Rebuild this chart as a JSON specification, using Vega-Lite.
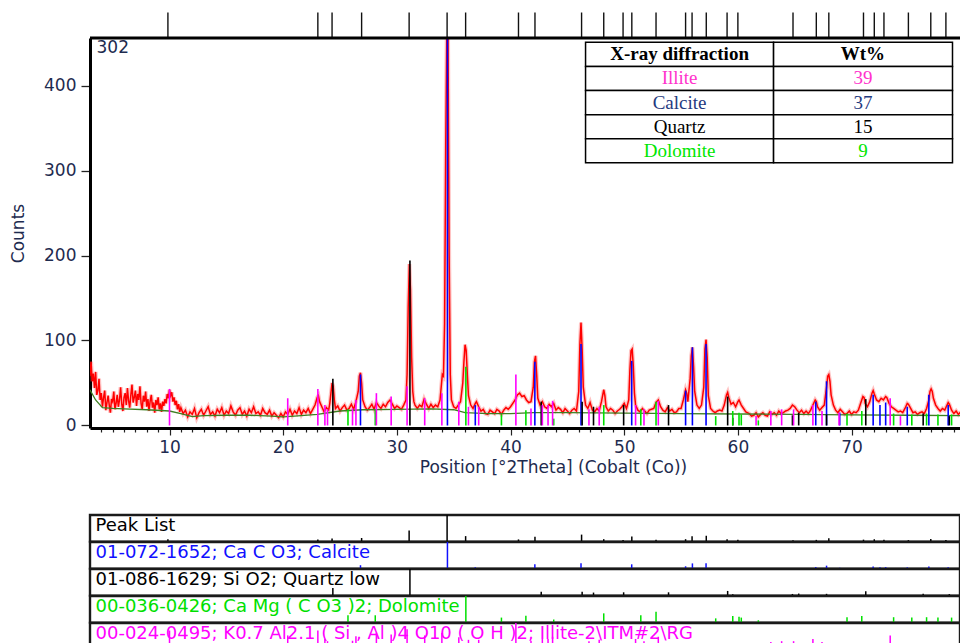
{
  "$schema": "https://vega.github.io/schema/vega-lite/v6.json",
  "padding": {"left": 9, "top": 11, "right": 0, "bottom": 0},
  "config": {
    "font": "DejaVu Sans",
    "view": {"stroke": null},
    "axis": {"grid": false, "labelFont": "DejaVu Sans", "titleFont": "DejaVu Sans"}
  },
  "datasets": {
    "sample": [{"sample": "302"}],
    "table": [
      {"rank": 0, "mineral": "X-ray diffraction", "wt": "Wt%"},
      {"rank": 1, "mineral": "Illite", "wt": "39"},
      {"rank": 2, "mineral": "Calcite", "wt": "37"},
      {"rank": 3, "mineral": "Quartz", "wt": "15"},
      {"rank": 4, "mineral": "Dolomite", "wt": "9"}
    ],
    "background": [
      {"t":3.0,"c":42},{"t":3.5,"c":30},{"t":4.1,"c":21},{"t":5,"c":20},{"t":6,"c":19.5},{"t":8,"c":18.5},{"t":10,"c":17},{"t":11,"c":14},{"t":12,"c":10.5},{"t":13,"c":11.5},{"t":15,"c":12},{"t":17,"c":12},{"t":19,"c":11},{"t":20,"c":10},{"t":21,"c":11},{"t":23,"c":13},{"t":25,"c":17},{"t":27,"c":18.5},{"t":30,"c":19},{"t":33,"c":19.5},{"t":35,"c":18.5},{"t":36,"c":15},{"t":38,"c":14},{"t":40,"c":14},{"t":42,"c":15},{"t":45,"c":15},{"t":50,"c":14.5},{"t":55,"c":14},{"t":60,"c":13.5},{"t":65,"c":13},{"t":70,"c":12.5},{"t":75,"c":12},{"t":79.6,"c":11.5}
    ],
    "pattern": [
      {"row":"Peak List","label":"Peak List"},
      {"row":"Calcite","label":"01-072-1652; Ca C O3; Calcite"},
      {"row":"Quartz","label":"01-086-1629; Si O2; Quartz low"},
      {"row":"Dolomite","label":"00-036-0426; Ca Mg ( C O3 )2; Dolomite"},
      {"row":"Illite","label":"00-024-0495; K0.7 Al2.1 ( Si , Al )4 O10 ( O H )2; Illite-2\\ITM#2\\RG"},
      {"row":"Peak List","t":9.86,"h":40},{"row":"Peak List","t":23.05,"h":35},{"row":"Peak List","t":24.3,"h":52},{"row":"Peak List","t":26.9,"h":62},{"row":"Peak List","t":31.08,"h":190},{"row":"Peak List","t":34.42,"h":460},{"row":"Peak List","t":36.05,"h":95},{"row":"Peak List","t":40.7,"h":38},{"row":"Peak List","t":42.15,"h":82},{"row":"Peak List","t":46.25,"h":121},{"row":"Peak List","t":48.2,"h":42},{"row":"Peak List","t":49.9,"h":28},{"row":"Peak List","t":50.67,"h":90},{"row":"Peak List","t":52.8,"h":30},{"row":"Peak List","t":55.4,"h":42},{"row":"Peak List","t":55.97,"h":92},{"row":"Peak List","t":57.22,"h":101},{"row":"Peak List","t":59.05,"h":39},{"row":"Peak List","t":60.0,"h":30},{"row":"Peak List","t":64.85,"h":24},{"row":"Peak List","t":66.9,"h":30},{"row":"Peak List","t":68.0,"h":60},{"row":"Peak List","t":71.05,"h":34},{"row":"Peak List","t":72.0,"h":41},{"row":"Peak List","t":72.85,"h":34},{"row":"Peak List","t":75.0,"h":26},{"row":"Peak List","t":76.97,"h":43},{"row":"Peak List","t":78.3,"h":27},
      {"row":"Calcite","t":26.8,"h":60},{"row":"Calcite","t":34.45,"h":470},{"row":"Calcite","t":36.9,"h":24},{"row":"Calcite","t":42.14,"h":75},{"row":"Calcite","t":46.2,"h":96},{"row":"Calcite","t":50.66,"h":76},{"row":"Calcite","t":55.4,"h":41},{"row":"Calcite","t":56.0,"h":92},{"row":"Calcite","t":57.2,"h":96},{"row":"Calcite","t":66.85,"h":28},{"row":"Calcite","t":67.8,"h":52},{"row":"Calcite","t":68.96,"h":15},{"row":"Calcite","t":71.9,"h":36},{"row":"Calcite","t":72.5,"h":24},{"row":"Calcite","t":73.0,"h":27},{"row":"Calcite","t":74.9,"h":22},{"row":"Calcite","t":76.8,"h":36},{"row":"Calcite","t":78.5,"h":24},
      {"row":"Quartz","t":24.37,"h":55},{"row":"Quartz","t":31.15,"h":194},{"row":"Quartz","t":42.7,"h":28},{"row":"Quartz","t":46.3,"h":28},{"row":"Quartz","t":47.3,"h":22},{"row":"Quartz","t":49.95,"h":24},{"row":"Quartz","t":53.9,"h":24},{"row":"Quartz","t":59.1,"h":34},{"row":"Quartz","t":59.55,"h":9},{"row":"Quartz","t":64.8,"h":12},{"row":"Quartz","t":65.35,"h":15},{"row":"Quartz","t":67.8,"h":13},{"row":"Quartz","t":71.25,"h":31},{"row":"Quartz","t":76.3,"h":14},{"row":"Quartz","t":78.6,"h":11},
      {"row":"Dolomite","t":25.7,"h":19},{"row":"Dolomite","t":28.1,"h":19},{"row":"Dolomite","t":36.07,"h":69},{"row":"Dolomite","t":39.2,"h":13},{"row":"Dolomite","t":41.35,"h":18},{"row":"Dolomite","t":43.8,"h":8},{"row":"Dolomite","t":48.2,"h":24},{"row":"Dolomite","t":51.46,"h":19},{"row":"Dolomite","t":52.8,"h":28},{"row":"Dolomite","t":58.05,"h":11},{"row":"Dolomite","t":59.55,"h":17},{"row":"Dolomite","t":60.1,"h":15},{"row":"Dolomite","t":60.3,"h":13},{"row":"Dolomite","t":61.8,"h":6},{"row":"Dolomite","t":69.6,"h":14},{"row":"Dolomite","t":70.9,"h":17},{"row":"Dolomite","t":73.7,"h":14},{"row":"Dolomite","t":75.3,"h":13},{"row":"Dolomite","t":76.6,"h":14},{"row":"Dolomite","t":77.6,"h":13},{"row":"Dolomite","t":78.8,"h":13},
      {"row":"Illite","t":10.0,"h":43},{"row":"Illite","t":20.4,"h":32},{"row":"Illite","t":23.05,"h":43},{"row":"Illite","t":23.67,"h":24},{"row":"Illite","t":23.9,"h":19},{"row":"Illite","t":26.1,"h":20},{"row":"Illite","t":26.4,"h":30},{"row":"Illite","t":28.2,"h":38},{"row":"Illite","t":29.5,"h":34},{"row":"Illite","t":30.9,"h":46},{"row":"Illite","t":32.45,"h":32},{"row":"Illite","t":33.96,"h":38},{"row":"Illite","t":35.45,"h":28},{"row":"Illite","t":36.3,"h":22},{"row":"Illite","t":37.2,"h":22},{"row":"Illite","t":40.47,"h":60},{"row":"Illite","t":41.8,"h":20},{"row":"Illite","t":42.8,"h":24},{"row":"Illite","t":43.3,"h":24},{"row":"Illite","t":43.7,"h":29},{"row":"Illite","t":46.9,"h":19},{"row":"Illite","t":47.8,"h":22},{"row":"Illite","t":51.0,"h":24},{"row":"Illite","t":51.74,"h":19},{"row":"Illite","t":53.0,"h":29},{"row":"Illite","t":61.6,"h":11},{"row":"Illite","t":62.9,"h":17},{"row":"Illite","t":63.85,"h":19},{"row":"Illite","t":64.9,"h":19},{"row":"Illite","t":66.6,"h":24},{"row":"Illite","t":67.4,"h":17},{"row":"Illite","t":68.9,"h":15},{"row":"Illite","t":73.4,"h":32},{"row":"Illite","t":74.3,"h":11}
    ],
    "scan": [
      {"t":3.0,"c":58},{"t":3.1,"c":75},{"t":3.2,"c":52},{"t":3.3,"c":61},{"t":3.4,"c":44},{"t":3.5,"c":63},{"t":3.6,"c":36},{"t":3.7,"c":41},{"t":3.8,"c":55},{"t":3.9,"c":30},{"t":4.0,"c":38},{"t":4.1,"c":22},{"t":4.2,"c":33},{"t":4.3,"c":41},{"t":4.4,"c":18},{"t":4.5,"c":27},{"t":4.6,"c":35},{"t":4.7,"c":24},{"t":4.8,"c":15},{"t":4.9,"c":31},{"t":5.0,"c":28},{"t":5.1,"c":40},{"t":5.2,"c":19},{"t":5.3,"c":26},{"t":5.4,"c":36},{"t":5.5,"c":22},{"t":5.6,"c":30},{"t":5.7,"c":45},{"t":5.8,"c":25},{"t":5.9,"c":17},{"t":6.0,"c":33},{"t":6.1,"c":38},{"t":6.2,"c":24},{"t":6.3,"c":44},{"t":6.4,"c":29},{"t":6.5,"c":21},{"t":6.6,"c":36},{"t":6.7,"c":48},{"t":6.8,"c":27},{"t":6.9,"c":33},{"t":7.0,"c":41},{"t":7.1,"c":23},{"t":7.2,"c":37},{"t":7.3,"c":30},{"t":7.4,"c":46},{"t":7.5,"c":26},{"t":7.6,"c":19},{"t":7.7,"c":35},{"t":7.8,"c":28},{"t":7.9,"c":40},{"t":8.0,"c":22},{"t":8.1,"c":31},{"t":8.2,"c":17},{"t":8.3,"c":29},{"t":8.4,"c":36},{"t":8.5,"c":21},{"t":8.6,"c":27},{"t":8.7,"c":15},{"t":8.8,"c":30},{"t":8.9,"c":24},{"t":9.0,"c":33},{"t":9.1,"c":19},{"t":9.2,"c":26},{"t":9.3,"c":16},{"t":9.4,"c":28},{"t":9.5,"c":23},{"t":9.6,"c":31},{"t":9.7,"c":26},{"t":9.8,"c":37},{"t":9.9,"c":32},{"t":10.0,"c":42},{"t":10.1,"c":35},{"t":10.2,"c":39},{"t":10.3,"c":28},{"t":10.4,"c":33},{"t":10.5,"c":24},{"t":10.6,"c":29},{"t":10.7,"c":19},{"t":10.8,"c":25},{"t":10.9,"c":16},
      {"t":11.0,"c":21},{"t":11.2,"c":14},{"t":11.4,"c":18},{"t":11.6,"c":10},{"t":11.8,"c":16},{"t":12.0,"c":13},{"t":12.2,"c":20},{"t":12.4,"c":9},{"t":12.6,"c":15},{"t":12.8,"c":19},{"t":13.0,"c":12},{"t":13.2,"c":17},{"t":13.4,"c":22},{"t":13.6,"c":13},{"t":13.8,"c":16},{"t":14.0,"c":11},{"t":14.2,"c":19},{"t":14.4,"c":15},{"t":14.6,"c":21},{"t":14.8,"c":12},{"t":15.0,"c":17},{"t":15.2,"c":14},{"t":15.4,"c":23},{"t":15.6,"c":16},{"t":15.8,"c":12},{"t":16.0,"c":18},{"t":16.2,"c":21},{"t":16.4,"c":13},{"t":16.6,"c":17},{"t":16.8,"c":11},{"t":17.0,"c":19},{"t":17.2,"c":15},{"t":17.4,"c":22},{"t":17.6,"c":14},{"t":17.8,"c":16},{"t":18.0,"c":12},{"t":18.2,"c":20},{"t":18.4,"c":15},{"t":18.6,"c":13},{"t":18.8,"c":18},{"t":19.0,"c":11},{"t":19.2,"c":15},{"t":19.4,"c":12},{"t":19.6,"c":9},{"t":19.8,"c":14},{"t":20.0,"c":10},{"t":20.2,"c":16},{"t":20.4,"c":13},{"t":20.6,"c":19},{"t":20.8,"c":12},{"t":21.0,"c":17},{"t":21.2,"c":14},{"t":21.4,"c":21},{"t":21.6,"c":13},{"t":21.8,"c":18},{"t":22.0,"c":15},{"t":22.2,"c":20},{"t":22.4,"c":14},{"t":22.6,"c":19},{"t":22.8,"c":24},{"t":23.0,"c":33},{"t":23.1,"c":35},{"t":23.2,"c":28},{"t":23.4,"c":22},{"t":23.6,"c":16},{"t":23.8,"c":21},{"t":24.0,"c":18},{"t":24.1,"c":26},{"t":24.2,"c":38},{"t":24.3,"c":50},{"t":24.4,"c":46},{"t":24.5,"c":30},{"t":24.6,"c":20},{"t":24.8,"c":23},{"t":25.0,"c":17},{"t":25.2,"c":21},{"t":25.4,"c":24},{"t":25.6,"c":18},{"t":25.8,"c":20},{"t":26.0,"c":25},{"t":26.2,"c":19},{"t":26.4,"c":28},{"t":26.6,"c":40},{"t":26.7,"c":58},{"t":26.8,"c":62},{"t":26.9,"c":50},{"t":27.0,"c":30},{"t":27.2,"c":22},{"t":27.4,"c":18},{"t":27.6,"c":21},{"t":27.8,"c":25},{"t":28.0,"c":19},{"t":28.2,"c":27},{"t":28.4,"c":23},{"t":28.6,"c":20},{"t":28.8,"c":25},{"t":29.0,"c":22},{"t":29.2,"c":27},{"t":29.4,"c":30},{"t":29.6,"c":25},{"t":29.8,"c":20},{"t":30.0,"c":23},{"t":30.2,"c":21},{"t":30.4,"c":19},{"t":30.6,"c":24},{"t":30.8,"c":30},{"t":30.9,"c":60},{"t":31.0,"c":140},{"t":31.1,"c":190},{"t":31.2,"c":160},{"t":31.3,"c":80},{"t":31.4,"c":40},{"t":31.5,"c":28},{"t":31.6,"c":24},{"t":31.8,"c":20},{"t":32.0,"c":24},{"t":32.2,"c":22},{"t":32.4,"c":31},{"t":32.6,"c":25},{"t":32.8,"c":20},{"t":33.0,"c":25},{"t":33.2,"c":21},{"t":33.4,"c":24},{"t":33.6,"c":22},{"t":33.8,"c":30},{"t":33.9,"c":45},{"t":34.0,"c":60},{"t":34.1,"c":58},{"t":34.2,"c":120},{"t":34.3,"c":330},{"t":34.4,"c":470},{"t":34.5,"c":460},{"t":34.6,"c":200},{"t":34.7,"c":60},{"t":34.8,"c":30},{"t":35.0,"c":22},{"t":35.2,"c":20},{"t":35.4,"c":24},{"t":35.6,"c":28},{"t":35.8,"c":50},{"t":35.9,"c":75},{"t":36.0,"c":95},{"t":36.1,"c":88},{"t":36.2,"c":60},{"t":36.3,"c":35},{"t":36.5,"c":24},{"t":36.7,"c":20},{"t":36.9,"c":26},{"t":37.0,"c":28},{"t":37.2,"c":22},{"t":37.4,"c":17},{"t":37.6,"c":19},{"t":37.8,"c":14},{"t":38.0,"c":13},{"t":38.2,"c":18},{"t":38.4,"c":16},{"t":38.6,"c":14},{"t":38.8,"c":19},{"t":39.0,"c":17},{"t":39.2,"c":13},{"t":39.4,"c":18},{"t":39.6,"c":21},{"t":39.8,"c":19},{"t":40.0,"c":22},{"t":40.2,"c":26},{"t":40.4,"c":30},{"t":40.6,"c":36},{"t":40.8,"c":38},{"t":41.0,"c":34},{"t":41.2,"c":35},{"t":41.4,"c":30},{"t":41.6,"c":27},{"t":41.8,"c":28},{"t":42.0,"c":45},{"t":42.1,"c":75},{"t":42.2,"c":82},{"t":42.3,"c":60},{"t":42.4,"c":32},{"t":42.6,"c":24},{"t":42.8,"c":28},{"t":43.0,"c":22},{"t":43.2,"c":20},{"t":43.4,"c":25},{"t":43.6,"c":22},{"t":43.8,"c":26},{"t":44.0,"c":18},{"t":44.2,"c":21},{"t":44.4,"c":19},{"t":44.6,"c":15},{"t":44.8,"c":20},{"t":45.0,"c":17},{"t":45.2,"c":14},{"t":45.4,"c":18},{"t":45.6,"c":20},{"t":45.8,"c":17},{"t":46.0,"c":40},{"t":46.1,"c":95},{"t":46.2,"c":121},{"t":46.3,"c":90},{"t":46.4,"c":45},{"t":46.6,"c":24},{"t":46.8,"c":20},{"t":47.0,"c":27},{"t":47.2,"c":18},{"t":47.4,"c":16},{"t":47.6,"c":20},{"t":47.8,"c":17},{"t":48.0,"c":28},{"t":48.2,"c":42},{"t":48.3,"c":35},{"t":48.4,"c":22},{"t":48.6,"c":17},{"t":48.8,"c":20},{"t":49.0,"c":18},{"t":49.2,"c":14},{"t":49.4,"c":17},{"t":49.6,"c":19},{"t":49.8,"c":22},{"t":50.0,"c":26},{"t":50.2,"c":20},{"t":50.4,"c":30},{"t":50.5,"c":65},{"t":50.6,"c":88},{"t":50.7,"c":90},{"t":50.8,"c":70},{"t":50.9,"c":38},{"t":51.0,"c":24},{"t":51.2,"c":18},{"t":51.4,"c":16},{"t":51.6,"c":20},{"t":51.8,"c":17},{"t":52.0,"c":14},{"t":52.2,"c":18},{"t":52.4,"c":19},{"t":52.6,"c":20},{"t":52.8,"c":27},{"t":53.0,"c":30},{"t":53.2,"c":22},{"t":53.4,"c":18},{"t":53.6,"c":16},{"t":53.8,"c":21},{"t":54.0,"c":17},{"t":54.2,"c":19},{"t":54.4,"c":15},{"t":54.6,"c":16},{"t":54.8,"c":20},{"t":55.0,"c":20},{"t":55.2,"c":30},{"t":55.4,"c":42},{"t":55.5,"c":38},{"t":55.6,"c":28},{"t":55.8,"c":55},{"t":55.9,"c":82},{"t":56.0,"c":92},{"t":56.1,"c":70},{"t":56.2,"c":40},{"t":56.4,"c":24},{"t":56.6,"c":20},{"t":56.8,"c":24},{"t":57.0,"c":45},{"t":57.1,"c":90},{"t":57.2,"c":101},{"t":57.3,"c":80},{"t":57.4,"c":35},{"t":57.6,"c":20},{"t":57.8,"c":17},{"t":58.0,"c":15},{"t":58.2,"c":17},{"t":58.4,"c":18},{"t":58.6,"c":17},{"t":58.8,"c":24},{"t":59.0,"c":36},{"t":59.1,"c":39},{"t":59.2,"c":33},{"t":59.4,"c":25},{"t":59.6,"c":27},{"t":59.8,"c":22},{"t":60.0,"c":28},{"t":60.1,"c":30},{"t":60.3,"c":24},{"t":60.5,"c":20},{"t":60.7,"c":16},{"t":61.0,"c":14},{"t":61.2,"c":11},{"t":61.4,"c":12},{"t":61.6,"c":15},{"t":61.8,"c":10},{"t":62.0,"c":13},{"t":62.2,"c":15},{"t":62.4,"c":12},{"t":62.6,"c":11},{"t":62.8,"c":16},{"t":63.0,"c":13},{"t":63.2,"c":15},{"t":63.4,"c":12},{"t":63.6,"c":17},{"t":63.8,"c":14},{"t":64.0,"c":15},{"t":64.2,"c":17},{"t":64.4,"c":18},{"t":64.6,"c":20},{"t":64.8,"c":24},{"t":65.0,"c":22},{"t":65.2,"c":18},{"t":65.4,"c":15},{"t":65.6,"c":18},{"t":65.8,"c":14},{"t":66.0,"c":17},{"t":66.2,"c":14},{"t":66.4,"c":18},{"t":66.6,"c":24},{"t":66.8,"c":30},{"t":66.9,"c":28},{"t":67.0,"c":22},{"t":67.2,"c":18},{"t":67.4,"c":21},{"t":67.6,"c":24},{"t":67.8,"c":45},{"t":67.9,"c":58},{"t":68.0,"c":60},{"t":68.1,"c":52},{"t":68.2,"c":36},{"t":68.4,"c":24},{"t":68.6,"c":18},{"t":68.8,"c":15},{"t":69.0,"c":19},{"t":69.2,"c":16},{"t":69.4,"c":13},{"t":69.6,"c":14},{"t":69.8,"c":17},{"t":70.0,"c":13},{"t":70.2,"c":16},{"t":70.4,"c":15},{"t":70.6,"c":18},{"t":70.8,"c":26},{"t":71.0,"c":34},{"t":71.1,"c":33},{"t":71.2,"c":26},{"t":71.4,"c":22},{"t":71.6,"c":28},{"t":71.8,"c":38},{"t":71.9,"c":41},{"t":72.0,"c":37},{"t":72.2,"c":30},{"t":72.4,"c":28},{"t":72.6,"c":32},{"t":72.8,"c":30},{"t":73.0,"c":34},{"t":73.1,"c":33},{"t":73.3,"c":26},{"t":73.5,"c":22},{"t":73.7,"c":20},{"t":73.9,"c":18},{"t":74.1,"c":16},{"t":74.3,"c":17},{"t":74.5,"c":15},{"t":74.7,"c":20},{"t":74.9,"c":26},{"t":75.0,"c":25},{"t":75.2,"c":20},{"t":75.4,"c":15},{"t":75.6,"c":16},{"t":75.8,"c":13},{"t":76.0,"c":15},{"t":76.2,"c":16},{"t":76.4,"c":14},{"t":76.6,"c":20},{"t":76.8,"c":30},{"t":76.9,"c":40},{"t":77.0,"c":43},{"t":77.1,"c":40},{"t":77.2,"c":32},{"t":77.4,"c":24},{"t":77.6,"c":20},{"t":77.8,"c":17},{"t":78.0,"c":20},{"t":78.2,"c":18},{"t":78.4,"c":24},{"t":78.5,"c":27},{"t":78.6,"c":25},{"t":78.8,"c":18},{"t":79.0,"c":14},{"t":79.2,"c":17},{"t":79.4,"c":13},{"t":79.6,"c":16}
    ]
  },
  "resolve": {"scale": {"color": "independent"}},
  "spacing": 38,
  "vconcat": [
    {
      "width": 870,
      "height": 390,
      "resolve": {"scale": {"y": "independent", "color": "independent"}},
      "layer": [
        {
          "layer": [
            {
              "data": {"name": "scan"},
              "mark": {"type": "line", "color": "#ff4a4a", "strokeWidth": 4, "opacity": 0.33, "clip": true},
              "encoding": {
                "x": {
                  "field": "t", "type": "quantitative",
                  "scale": {"domain": [3.006, 79.54], "nice": false, "zero": false},
                  "axis": {
                    "title": "Position [°2Theta] (Cobalt (Co))",
                    "tickCount": 77,
                    "labelExpr": "datum.value % 10 === 0 ? datum.label : ''",
                    "tickSize": {"condition": {"test": "datum.value % 10 === 0", "value": 7}, "value": 4},
                    "tickColor": "#222", "tickWidth": 1.2,
                    "domainColor": "#000", "domainWidth": 3,
                    "labelFontSize": 17, "labelColor": "#1e2b4f", "labelPadding": 4,
                    "labelFlush": false, "labelOverlap": false,
                    "titleFontSize": 17, "titleFontWeight": "normal", "titleColor": "#1e2b4f",
                    "titleX": 463, "titlePadding": 4
                  }
                },
                "y": {
                  "field": "c", "type": "quantitative",
                  "scale": {"domain": [-3, 456], "nice": false, "zero": false},
                  "axis": {
                    "title": "Counts", "tickCount": 5,
                    "tickSize": 9, "tickColor": "#222", "tickWidth": 1.3,
                    "domainColor": "#000", "domainWidth": 3,
                    "labelFontSize": 17, "labelColor": "#1e2b4f", "labelPadding": 5,
                    "titleFontSize": 17, "titleFontWeight": "normal", "titleColor": "#1e2b4f",
                    "titlePadding": 16
                  }
                }
              }
            },
            {
              "data": {"name": "scan"},
              "mark": {"type": "line", "color": "#ff0000", "strokeWidth": 1.5, "clip": true},
              "encoding": {
                "x": {"field": "t", "type": "quantitative"},
                "y": {"field": "c", "type": "quantitative"}
              }
            },
            {
              "data": {"name": "background"},
              "mark": {"type": "line", "color": "#3d7f22", "strokeWidth": 1.3, "clip": true},
              "encoding": {
                "x": {"field": "t", "type": "quantitative"},
                "y": {"field": "c", "type": "quantitative"}
              }
            },
            {
              "data": {"name": "pattern"},
              "transform": [{"filter": "datum.row != 'Peak List' && isValid(datum.h)"}],
              "mark": {"type": "rule", "strokeWidth": 1.6, "clip": true},
              "encoding": {
                "x": {"field": "t", "type": "quantitative"},
                "y": {"field": "h", "type": "quantitative"},
                "y2": {"datum": 0},
                "color": {
                  "field": "row", "type": "nominal", "legend": null,
                  "scale": {"domain": ["Calcite", "Quartz", "Dolomite", "Illite"], "range": ["#0000ff", "#000000", "#00e000", "#ff00ff"]}
                }
              }
            },
            {
              "data": {"name": "pattern"},
              "transform": [{"filter": "datum.row == 'Peak List' && isValid(datum.t)"}],
              "mark": {"type": "rule", "strokeWidth": 1.4, "color": "#111"},
              "encoding": {
                "x": {"field": "t", "type": "quantitative"},
                "y": {"datum": 457, "type": "quantitative"},
                "y2": {"datum": 486}
              }
            },
            {
              "data": {"name": "sample"},
              "mark": {"type": "rule", "strokeWidth": 3, "color": "#000"},
              "encoding": {"y": {"datum": 456, "type": "quantitative"}}
            },
            {
              "data": {"name": "sample"},
              "mark": {"type": "text", "align": "left", "baseline": "middle", "fontSize": 17, "color": "#1e2b4f"},
              "encoding": {
                "x": {"datum": 3.58, "type": "quantitative"},
                "y": {"datum": 444, "type": "quantitative"},
                "text": {"field": "sample"}
              }
            }
          ]
        },
        {
          "data": {"name": "table"},
          "layer": [
            {
              "mark": {"type": "bar", "fill": "#ffffff", "stroke": "#000000", "strokeWidth": 1.5},
              "encoding": {
                "y": {
                  "field": "rank", "type": "ordinal", "axis": null,
                  "scale": {"type": "band", "domain": [0, 1, 2, 3, 4, 5, 6, 7, 8, 9, 10, 11, 12, 13, 14, 15], "paddingInner": 0, "paddingOuter": 0.09, "align": 1, "round": false}
                },
                "x": {"datum": 46.6, "type": "quantitative"},
                "x2": {"datum": 63.14}
              }
            },
            {
              "mark": {"type": "bar", "fill": "#ffffff", "stroke": "#000000", "strokeWidth": 1.5},
              "encoding": {
                "y": {"field": "rank", "type": "ordinal", "axis": null},
                "x": {"datum": 63.14, "type": "quantitative"},
                "x2": {"datum": 78.88}
              }
            },
            {
              "transform": [{"filter": "datum.rank > 0"}],
              "mark": {"type": "text", "font": "Liberation Serif", "fontSize": 19, "baseline": "middle"},
              "encoding": {
                "y": {"field": "rank", "type": "ordinal", "axis": null},
                "x": {"datum": 54.87, "type": "quantitative"},
                "text": {"field": "mineral"},
                "color": {
                  "field": "mineral", "type": "nominal", "legend": null,
                  "scale": {"domain": ["Illite", "Calcite", "Quartz", "Dolomite"], "range": ["#ff33cc", "#1f3a80", "#000000", "#00e600"]}
                }
              }
            },
            {
              "transform": [{"filter": "datum.rank > 0"}],
              "mark": {"type": "text", "font": "Liberation Serif", "fontSize": 19, "baseline": "middle"},
              "encoding": {
                "y": {"field": "rank", "type": "ordinal", "axis": null},
                "x": {"datum": 71.0, "type": "quantitative"},
                "text": {"field": "wt"},
                "color": {"field": "mineral", "type": "nominal", "legend": null}
              }
            },
            {
              "transform": [{"filter": "datum.rank == 0"}],
              "mark": {"type": "text", "font": "Liberation Serif", "fontSize": 19, "fontWeight": "bold", "baseline": "middle", "color": "#000"},
              "encoding": {
                "y": {"field": "rank", "type": "ordinal", "axis": null},
                "x": {"datum": 54.87, "type": "quantitative"},
                "text": {"field": "mineral"}
              }
            },
            {
              "transform": [{"filter": "datum.rank == 0"}],
              "mark": {"type": "text", "font": "Liberation Serif", "fontSize": 19, "fontWeight": "bold", "baseline": "middle", "color": "#000"},
              "encoding": {
                "y": {"field": "rank", "type": "ordinal", "axis": null},
                "x": {"datum": 71.0, "type": "quantitative"},
                "text": {"field": "wt"}
              }
            }
          ]
        }
      ]
    },
    {
      "data": {"name": "pattern"},
      "facet": {
        "row": {"field": "row", "type": "nominal", "sort": ["Peak List", "Calcite", "Quartz", "Dolomite", "Illite"], "header": null}
      },
      "spacing": {"row": 0},
      "bounds": "flush",
      "resolve": {"scale": {"y": "independent"}},
      "spec": {
        "width": 870,
        "height": 26.6,
        "view": {"stroke": "#1a1a1a", "strokeWidth": 2.4},
        "layer": [
          {
            "transform": [{"filter": "isValid(datum.h)"}],
            "mark": {"type": "rule", "strokeWidth": 1.5},
            "encoding": {
              "x": {"field": "t", "type": "quantitative", "axis": null, "scale": {"domain": [3.006, 79.54], "nice": false, "zero": false}},
              "y": {"field": "h", "type": "quantitative", "axis": null, "scale": {"nice": false}},
              "y2": {"datum": 0},
              "color": {
                "field": "row", "type": "nominal", "legend": null,
                "scale": {"domain": ["Peak List", "Calcite", "Quartz", "Dolomite", "Illite"], "range": ["#000000", "#1010ff", "#000000", "#00e000", "#ff00ff"]}
              }
            }
          },
          {
            "transform": [{"filter": "isValid(datum.label)"}],
            "mark": {"type": "text", "align": "left", "baseline": "middle", "fontSize": 18, "dy": -2},
            "encoding": {
              "x": {"datum": 3.49, "type": "quantitative", "axis": null},
              "text": {"field": "label"},
              "color": {"field": "row", "type": "nominal", "legend": null}
            }
          }
        ]
      }
    }
  ]
}
